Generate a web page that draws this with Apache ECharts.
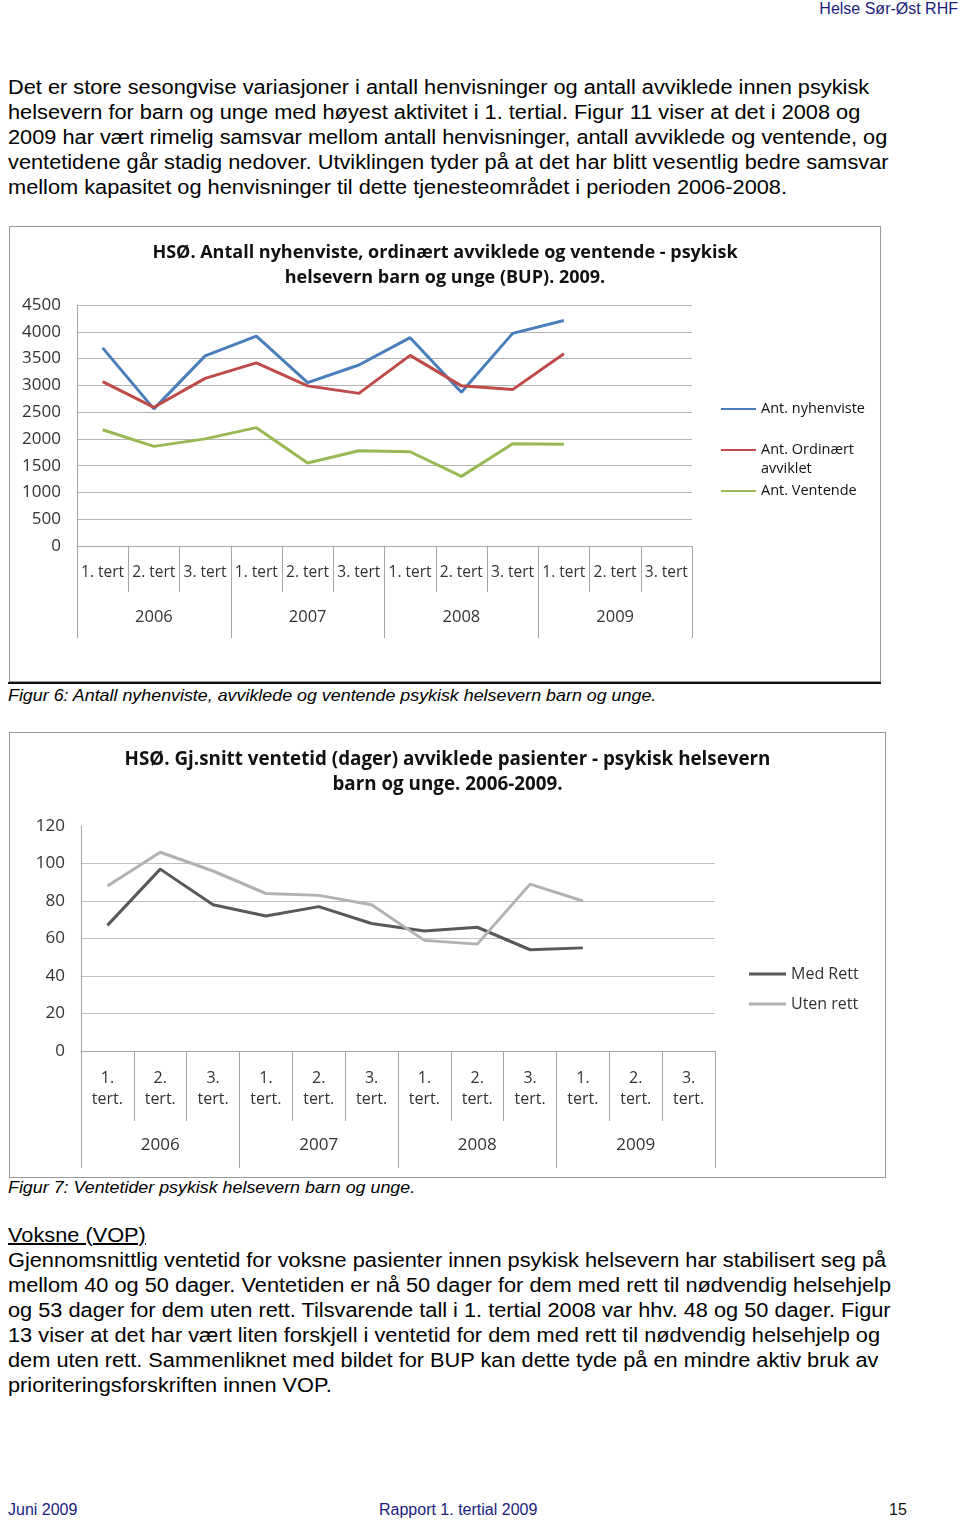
<!DOCTYPE html>
<html>
<head>
<meta charset="utf-8">
<script src="https://cdn.jsdelivr.net/npm/echarts@6/dist/echarts.min.js"></script>
<style>
  html, body { margin: 0; padding: 0; background: #fff; }
  body { width: 960px; height: 1523px; position: relative; overflow: hidden; font-family: "Liberation Sans", Arial, sans-serif; color: #000; }
  .abs { position: absolute; white-space: nowrap; }
  .para { font-size: 20px; line-height: 25px; left: 8px; transform: scaleX(1.088); transform-origin: 0 0; }
  .cap { font-size: 17px; font-style: italic; left: 8px; line-height: 20px; transform: scaleX(1.05); transform-origin: 0 0; }
  .hdr { color: #1b1b7e; font-size: 16px; line-height: 18px; }
  #c1 { position: absolute; left: 9px; top: 226px; width: 870px; height: 454px; border: 1px solid #9a9a9a; }
  #c2 { position: absolute; left: 9px; top: 732px; width: 875px; height: 444px; border: 1px solid #9a9a9a; }
  #rule { position: absolute; left: 8px; top: 682px; width: 873px; height: 2px; background: #111; }
</style>
</head>
<body>
<div class="abs hdr" style="right:2px; top:0px;">Helse Sør-Øst RHF</div>

<div class="abs para" style="top:75px;">Det er store sesongvise variasjoner i antall henvisninger og antall avviklede innen psykisk<br>helsevern for barn og unge med høyest aktivitet i 1. tertial. Figur 11 viser at det i 2008 og<br>2009 har vært rimelig samsvar mellom antall henvisninger, antall avviklede og ventende, og<br>ventetidene går stadig nedover. Utviklingen tyder på at det har blitt vesentlig bedre samsvar<br>mellom kapasitet og henvisninger til dette tjenesteområdet i perioden 2006-2008.</div>

<div id="c1"></div>
<div id="rule"></div>
<div class="abs cap" style="top:686px;">Figur 6: Antall nyhenviste, avviklede og ventende psykisk helsevern barn og unge.</div>

<div id="c2"></div>
<div class="abs cap" style="top:1178px;">Figur 7: Ventetider psykisk helsevern barn og unge.</div>

<div class="abs para" style="top:1223px;"><span style="text-decoration:underline;">Voksne (VOP)</span><br>Gjennomsnittlig ventetid for voksne pasienter innen psykisk helsevern har stabilisert seg på<br>mellom 40 og 50 dager. Ventetiden er nå 50 dager for dem med rett til nødvendig helsehjelp<br>og 53 dager for dem uten rett. Tilsvarende tall i 1. tertial 2008 var hhv. 48 og 50 dager. Figur<br>13 viser at det har vært liten forskjell i ventetid for dem med rett til nødvendig helsehjelp og<br>dem uten rett. Sammenliknet med bildet for BUP kan dette tyde på en mindre aktiv bruk av<br>prioriteringsforskriften innen VOP.</div>

<div class="abs hdr" style="left:8px; top:1501px;">Juni 2009</div>
<div class="abs hdr" style="left:379px; top:1501px;">Rapport 1. tertial 2009</div>
<div class="abs hdr" style="left:889px; top:1501px; color:#111;">15</div>

<script>
// ---------- data ----------
const tertLabels1 = ['1. tert','2. tert','3. tert','1. tert','2. tert','3. tert','1. tert','2. tert','3. tert','1. tert','2. tert','3. tert'];
const tertLabels2 = ['1.\ntert.','2.\ntert.','3.\ntert.','1.\ntert.','2.\ntert.','3.\ntert.','1.\ntert.','2.\ntert.','3.\ntert.','1.\ntert.','2.\ntert.','3.\ntert.'];
const years = ['2006','2007','2008','2009'];

const nyhenviste = [3700, 2560, 3550, 3920, 3050, 3380, 3890, 2870, 3970, 4210];
const ordinaertAvviklet = [3070, 2590, 3130, 3420, 2990, 2850, 3560, 2990, 2920, 3590];
const ventende = [2170, 1860, 2000, 2210, 1550, 1780, 1760, 1300, 1910, 1900];

const medRett = [67, 97, 78, 72, 77, 68, 64, 66, 54, 55];
const utenRett = [88, 106, 96, 84, 83, 78, 59, 57, 89, 80];

const title1 = 'HSØ. Antall nyhenviste, ordinært avviklede og ventende - psykisk\nhelsevern barn og unge (BUP). 2009.';
const title2 = 'HSØ. Gj.snitt ventetid (dager) avviklede pasienter - psykisk helsevern\nbarn og unge. 2006-2009.';

const FONT = '"Open Sans", sans-serif';
const AX = '#a6a6a6';
const plain = v => String(v);

// ---------- chart 1 ----------
const c1 = echarts.init(document.getElementById('c1'), null, {renderer: 'canvas'});
function legendItem(name, top, left, extra) {
  return Object.assign({
    data: [name], left: left, top: top, orient: 'vertical', selectedMode: false,
    icon: 'rect', itemWidth: 35, itemHeight: 2, itemGap: 0, padding: 0,
    textStyle: {fontFamily: FONT, fontSize: 14.5, color: '#111', lineHeight: 19}
  }, extra || {});
}
c1.setOption({
  animation: false,
  title: {text: title1, left: 'center', top: 8, textStyle: {fontFamily: FONT, fontWeight: 'bold', fontSize: 18, lineHeight: 25, color: '#111'}},
  grid: {left: 67, top: 78, width: 615, height: 241},
  legend: [
    legendItem('Ant. nyhenviste', 172.5, 711),
    legendItem('Ant. Ordinært avviklet', 213.5, 711, {formatter: () => 'Ant. Ordinært'}),
    legendItem('Ant. Ventende', 254.5, 711)
  ],
  graphic: [{type: 'text', left: 751, top: 234, style: {text: 'avviklet', font: '14.5px "Open Sans", sans-serif', fill: '#111'}}],
  xAxis: [
    {type: 'category', data: tertLabels1, position: 'bottom', boundaryGap: true,
     axisLine: {lineStyle: {color: AX}}, axisTick: {show: true, interval: 0, length: 46, lineStyle: {color: AX}},
     axisLabel: {interval: 0, margin: 19, fontFamily: FONT, fontSize: 15.5, color: '#333'}},
    {type: 'category', data: years, position: 'bottom', boundaryGap: true,
     axisLine: {show: false}, axisTick: {show: true, interval: 0, length: 92, lineStyle: {color: AX}},
     axisLabel: {interval: 0, margin: 63, fontFamily: FONT, fontSize: 16.5, color: '#333'}}
  ],
  yAxis: {type: 'value', min: 0, max: 4500, interval: 500,
    axisLine: {show: true, lineStyle: {color: AX}}, axisTick: {show: false},
    splitLine: {lineStyle: {color: '#b3b3b3'}},
    axisLabel: {margin: 16, fontFamily: FONT, fontSize: 17, color: '#333', formatter: plain}},
  series: [
    {name: 'Ant. nyhenviste', type: 'line', data: nyhenviste, showSymbol: false, symbol: 'none', lineStyle: {width: 3, color: '#4a7ebb'}, itemStyle: {color: '#4a7ebb'}},
    {name: 'Ant. Ordinært avviklet', type: 'line', data: ordinaertAvviklet, showSymbol: false, symbol: 'none', lineStyle: {width: 3, color: '#be4b48'}, itemStyle: {color: '#be4b48'}},
    {name: 'Ant. Ventende', type: 'line', data: ventende, showSymbol: false, symbol: 'none', lineStyle: {width: 3, color: '#98b954'}, itemStyle: {color: '#98b954'}}
  ]
});

// ---------- chart 2 ----------
const c2 = echarts.init(document.getElementById('c2'), null, {renderer: 'canvas'});
function legend2(name, top) {
  return {data: [name], left: 739, top: top, selectedMode: false, icon: 'rect', itemWidth: 37, itemHeight: 3, itemGap: 0, padding: 0,
    textStyle: {fontFamily: FONT, fontSize: 16, color: '#333', lineHeight: 20}};
}
c2.setOption({
  animation: false,
  title: {text: title2, left: 'center', top: 9, textStyle: {fontFamily: FONT, fontWeight: 'bold', fontSize: 18.8, lineHeight: 25, color: '#111'}},
  grid: {left: 71, top: 93, width: 634, height: 225},
  legend: [legend2('Med Rett', 231), legend2('Uten rett', 261)],
  xAxis: [
    {type: 'category', data: tertLabels2, position: 'bottom', boundaryGap: true,
     axisLine: {lineStyle: {color: AX}}, axisTick: {show: true, interval: 0, length: 70, lineStyle: {color: AX}},
     axisLabel: {interval: 0, margin: 17, fontFamily: FONT, fontSize: 16, lineHeight: 21, color: '#333'}},
    {type: 'category', data: years, position: 'bottom', boundaryGap: true,
     axisLine: {show: false}, axisTick: {show: true, interval: 0, length: 117, lineStyle: {color: AX}},
     axisLabel: {interval: 0, margin: 86, fontFamily: FONT, fontSize: 17, color: '#333'}}
  ],
  yAxis: {type: 'value', min: 0, max: 120, interval: 20,
    axisLine: {show: true, lineStyle: {color: AX}}, axisTick: {show: false},
    splitLine: {lineStyle: {color: ['#bfbfbf','#bfbfbf','#bfbfbf','#bfbfbf','#bfbfbf','#bfbfbf','rgba(0,0,0,0)']}},
    axisLabel: {margin: 16, fontFamily: FONT, fontSize: 17, color: '#333', formatter: plain}},
  series: [
    {name: 'Med Rett', type: 'line', data: medRett, showSymbol: false, symbol: 'none', lineStyle: {width: 3, color: '#595959'}, itemStyle: {color: '#595959'}},
    {name: 'Uten rett', type: 'line', data: utenRett, showSymbol: false, symbol: 'none', lineStyle: {width: 3, color: '#b2b2b2'}, itemStyle: {color: '#b2b2b2'}}
  ]
});
</script>
</body>
</html>
